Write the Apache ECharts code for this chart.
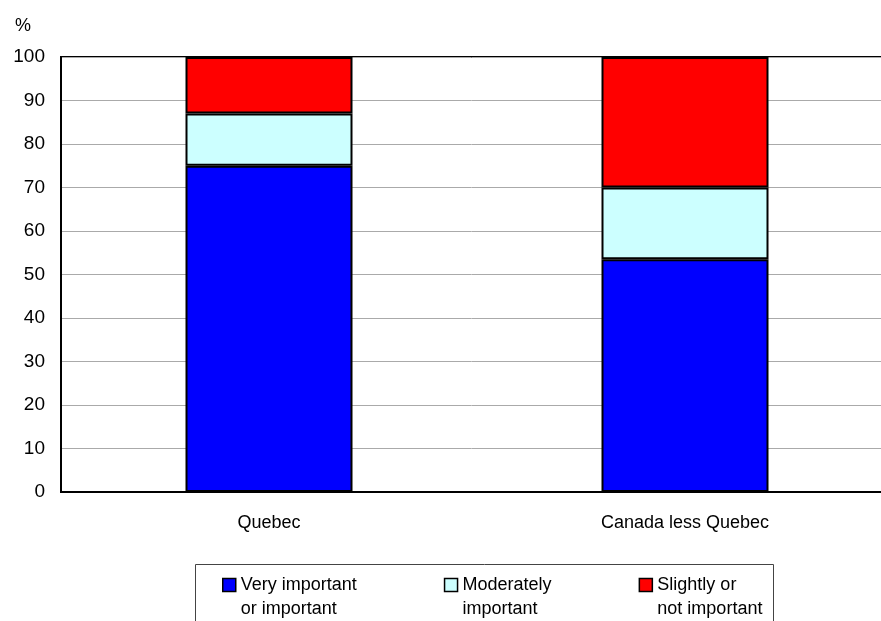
<!DOCTYPE html>
<html>
<head>
<meta charset="utf-8">
<script src="https://cdn.jsdelivr.net/npm/echarts@6/dist/echarts.min.js"></script>
<style>
html,body{margin:0;padding:0;background:#fff;}
#main{width:881px;height:621px;}
</style>
</head>
<body>
<div id="main"></div>
<script>
const categories = ['Quebec', 'Canada less Quebec'];
const veryImportant = [75, 53.5];
const moderatelyImportant = [12, 16.5];
const slightlyImportant = [13, 30];
const seriesNames = ['Very important\nor important', 'Moderately\nimportant', 'Slightly or\nnot important'];
const seriesColors = ['#0000FF', '#CCFFFF', '#FF0000'];
const yMin = 0, yMax = 100, yStep = 10;

const FONT = 'Liberation Sans, Arial, sans-serif';
const LH = 24;

const chart = echarts.init(document.getElementById('main'), null, {renderer: 'canvas'});
const values = [veryImportant, moderatelyImportant, slightlyImportant];

chart.setOption({
  animation: false,
  backgroundColor: '#fff',
  title: {
    text: '%', left: 10, top: 12,
    textStyle: {fontFamily: FONT, fontSize: 18, fontWeight: 'normal', color: '#000'}
  },
  grid: {
    left: 61, top: 57, width: 832, bottom: 129,
    outerBoundsMode: 'none', containLabel: false,
    show: true, borderColor: '#000', borderWidth: 2, backgroundColor: 'transparent'
  },
  legend: {
    left: 222, top: 573, padding: 0,
    itemWidth: 13, itemHeight: 13, itemGap: 87, itemTextGap: 4,
    icon: 'rect',
    data: seriesNames,
    formatter: function (name) {
      const parts = name.split('\n');
      return '{a|' + parts[0] + '}\n{b|' + parts[1] + '}';
    },
    textStyle: {
      fontFamily: FONT, fontSize: 18, color: '#000',
      rich: {
        a: {fontFamily: FONT, fontSize: 18, color: '#000', lineHeight: 2 * LH, height: LH, verticalAlign: 'bottom'},
        b: {fontFamily: FONT, fontSize: 18, color: '#000', lineHeight: LH, height: LH}
      }
    },
    itemStyle: {borderColor: '#000', borderWidth: 1.5}
  },
  graphic: [{
    type: 'rect', silent: true,
    shape: {x: 195.5, y: 564.5, width: 578, height: 80},
    style: {fill: 'none', stroke: '#444', lineWidth: 1}
  }],
  xAxis: {
    type: 'category', data: categories,
    axisLine: {show: true, lineStyle: {color: '#000', width: 2}},
    axisTick: {show: false},
    axisLabel: {fontFamily: FONT, fontSize: 18, color: '#000', margin: 22}
  },
  yAxis: {
    type: 'value', min: yMin, max: yMax, interval: yStep,
    axisLine: {show: true, lineStyle: {color: '#000', width: 2}},
    axisTick: {show: false},
    axisLabel: {fontFamily: FONT, fontSize: 19, color: '#000', margin: 16},
    splitLine: {show: true, lineStyle: {color: '#aaaaaa', width: 1}}
  },
  series: seriesNames.map((n, i) => ({
    name: n, type: 'bar', stack: 'total', barWidth: 167,
    data: values[i],
    itemStyle: {color: seriesColors[i], borderColor: '#000', borderWidth: 2}
  }))
});
</script>
</body>
</html>
